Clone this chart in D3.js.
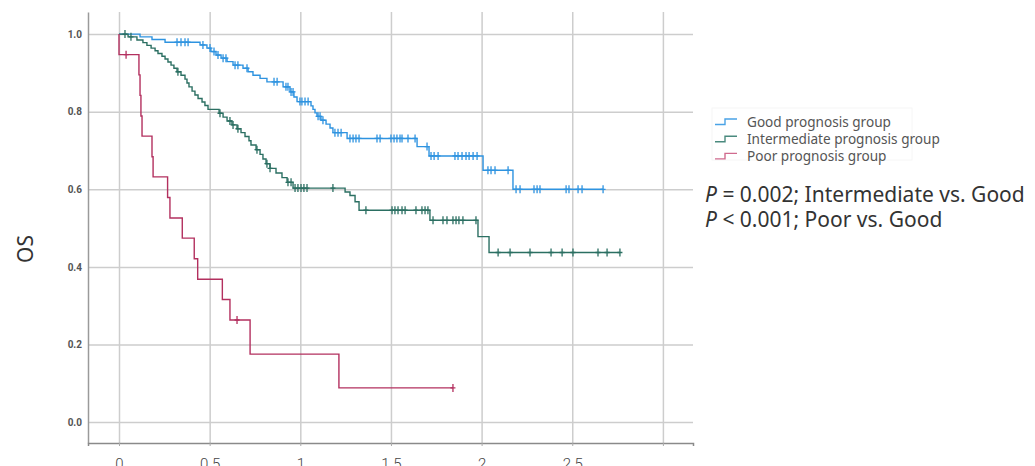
<!DOCTYPE html>
<html>
<head>
<meta charset="utf-8">
<script src="https://cdn.jsdelivr.net/npm/d3@7"></script>
<style>
  body { margin: 0; background: #fff; }
  svg { display: block; }
</style>
</head>
<body>
<div id="chart"></div>
<script>
// tick values
var xTicks = [0, 0.5, 1, 1.5, 2, 2.5, 3];
var xTickLabels = ["0", "0.5", "1", "1.5", "2", "2.5", ""];
var yTicks = [0, 0.2, 0.4, 0.6, 0.8, 1.0];

var groupNames = ["Good prognosis group", "Intermediate prognosis group", "Poor prognosis group"];

// Good prognosis: event times and survival after each event
var goodTimes = [0.116, 0.182, 0.254, 0.447, 0.485, 0.507, 0.535, 0.563, 0.596, 0.629, 0.684, 0.712, 0.739, 0.778, 0.816,
  0.905, 0.943, 0.965, 0.982, 1.059, 1.070, 1.081, 1.092, 1.114, 1.142, 1.164, 1.180, 1.258, 1.644, 1.710, 2.008, 2.173];
var goodSurv = [0.993, 0.986, 0.979, 0.972, 0.964, 0.955, 0.946, 0.938, 0.929, 0.920, 0.912, 0.903, 0.894, 0.886, 0.877,
  0.864, 0.851, 0.838, 0.826, 0.815, 0.806, 0.797, 0.788, 0.778, 0.768, 0.758, 0.746, 0.731, 0.710, 0.686, 0.649, 0.600];
var goodCensor = [0.320, 0.342, 0.364, 0.381, 0.463, 0.502, 0.524, 0.546, 0.574, 0.590, 0.640, 0.656, 0.706, 0.855, 0.872,
  0.921, 0.932, 0.949, 0.960, 0.998, 1.009, 1.026, 1.043, 1.098, 1.109, 1.125, 1.191, 1.208, 1.225, 1.274, 1.291, 1.307,
  1.324, 1.423, 1.440, 1.500, 1.517, 1.533, 1.550, 1.561, 1.594, 1.633, 1.699, 1.721, 1.738, 1.760, 1.853, 1.870, 1.892,
  1.914, 1.931, 1.953, 1.975, 2.035, 2.052, 2.074, 2.146, 2.190, 2.212, 2.289, 2.306, 2.322, 2.466, 2.482, 2.532, 2.554, 2.670];

// Intermediate prognosis
var midTimes = [0.050, 0.099, 0.132, 0.154, 0.177, 0.199, 0.215, 0.237, 0.254, 0.270, 0.287, 0.303, 0.320, 0.342, 0.364,
  0.375, 0.386, 0.403, 0.419, 0.436, 0.458, 0.474, 0.491, 0.552, 0.574, 0.596, 0.623, 0.651, 0.673, 0.695, 0.717, 0.728,
  0.756, 0.778, 0.794, 0.811, 0.833, 0.866, 0.899, 0.927, 0.960, 1.247, 1.274, 1.302, 1.324, 1.715, 1.980, 2.041];
var midSurv = [0.993, 0.985, 0.978, 0.971, 0.964, 0.957, 0.950, 0.943, 0.936, 0.928, 0.920, 0.912, 0.903, 0.894, 0.884,
  0.874, 0.864, 0.853, 0.843, 0.834, 0.825, 0.816, 0.806, 0.796, 0.786, 0.776, 0.766, 0.756, 0.746, 0.736, 0.725, 0.714,
  0.702, 0.690, 0.678, 0.666, 0.654, 0.642, 0.630, 0.618, 0.603, 0.593, 0.584, 0.568, 0.546, 0.520, 0.478, 0.437];
var midCensor = [0.033, 0.066, 0.325, 0.557, 0.612, 0.629, 0.656, 0.761, 0.816, 0.833, 0.932, 0.949, 0.971, 0.987, 1.004,
  1.020, 1.037, 1.180, 1.362, 1.506, 1.522, 1.539, 1.561, 1.578, 1.638, 1.671, 1.688, 1.704, 1.732, 1.787, 1.809, 1.842,
  1.859, 1.875, 1.897, 1.969, 2.091, 2.157, 2.267, 2.383, 2.444, 2.504, 2.642, 2.692, 2.763];

// Poor prognosis
var poorTimes = [0, 0.110, 0.116, 0.121, 0.127, 0.182, 0.188, 0.268, 0.281, 0.349, 0.415, 0.434, 0.570, 0.612, 0.723, 1.213];
var poorSurv = [0.947, 0.895, 0.842, 0.789, 0.737, 0.684, 0.632, 0.579, 0.526, 0.474, 0.421, 0.368, 0.316, 0.263, 0.175, 0.088];
var poorCensor = [0.039, 0.651, 1.842];

var colors = ["#2e93e0", "#2b6f62", "#b3305f"];
var legendColors = ["#4aa3e6", "#4a8a7e", "#d06b8e"];

var svgWidth = 1035;
var svgHeight = 466;
var margin = { top: 12, right: 342, bottom: 23, left: 88 };
var width = svgWidth - margin.left - margin.right;
var height = svgHeight - margin.top - margin.bottom;

var svg = d3.select("#chart")
  .append("svg")
  .attr("width", svgWidth)
  .attr("height", svgHeight);

var chartGroup = svg.append("g")
  .attr("transform", `translate(${margin.left}, ${margin.top})`);

var xScale = d3.scaleLinear().domain([-0.171, 3.166]).range([0, width]);
var yScale = d3.scaleLinear().domain([-0.054, 1.057]).range([height, 0]);

// grid lines via axes
var xGrid = chartGroup.append("g")
  .attr("transform", `translate(0, ${height})`)
  .call(d3.axisBottom(xScale).tickValues(xTicks).tickSize(-height).tickFormat(""));
xGrid.select(".domain").remove();
xGrid.selectAll("line").attr("stroke", "#cdcdcd").attr("stroke-width", 1.5);

var yGrid = chartGroup.append("g")
  .call(d3.axisLeft(yScale).tickValues(yTicks).tickSize(-width).tickFormat(""));
yGrid.select(".domain").remove();
yGrid.selectAll("line").attr("stroke", "#cdcdcd").attr("stroke-width", 1.5);

// axis labels
var yAxis = chartGroup.append("g")
  .call(d3.axisLeft(yScale).tickValues(yTicks).tickSize(0).tickPadding(6).tickFormat(d3.format(".1f")));
yAxis.select(".domain").attr("stroke", "#9a9a9a").attr("stroke-width", 1.5);
yAxis.selectAll("text")
  .attr("font-family", "Roboto, 'Liberation Sans', sans-serif")
  .attr("font-weight", "bold")
  .attr("font-size", 10)
  .attr("fill", "#555");

var xAxis = chartGroup.append("g")
  .attr("transform", `translate(0, ${height})`)
  .call(d3.axisBottom(xScale).tickValues(xTicks).tickSize(3).tickPadding(12)
    .tickFormat(function(d, i) { return xTickLabels[i]; }));
xAxis.select(".domain").attr("stroke", "#8a8a8a").attr("stroke-width", 1.5);
xAxis.selectAll("line").attr("stroke", "#aaa");
xAxis.selectAll("text")
  .attr("font-family", "Roboto, sans-serif")
  .attr("font-weight", 300)
  .attr("font-size", 15)
  .attr("fill", "#444");

// OS label
svg.append("text")
  .attr("transform", "translate(33, 249) rotate(-90)")
  .attr("text-anchor", "middle")
  .attr("font-family", "'Noto Sans', sans-serif")
  .attr("font-size", 21)
  .attr("fill", "#333")
  .text("OS");

function buildCurve(times, surv, censor) {
  var pts = [{ t: 0, s: 1 }];
  times.forEach(function(t, i) { pts.push({ t: t, s: surv[i] }); });
  var end = d3.max([d3.max(times), d3.max(censor)]);
  pts.push({ t: end, s: surv[surv.length - 1] });
  return pts;
}

function survAt(times, surv, t) {
  var s = 1;
  times.forEach(function(tt, i) { if (tt <= t) s = surv[i]; });
  return s;
}

var groups = [
  { times: goodTimes, surv: goodSurv, censor: goodCensor },
  { times: midTimes, surv: midSurv, censor: midCensor },
  { times: poorTimes, surv: poorSurv, censor: poorCensor }
];

var line = d3.line()
  .x(d => xScale(d.t))
  .y(d => yScale(d.s))
  .curve(d3.curveStepAfter);

groups.forEach(function(g, gi) {
  chartGroup.append("path")
    .datum(buildCurve(g.times, g.surv, g.censor))
    .attr("d", line)
    .attr("fill", "none")
    .attr("stroke", colors[gi])
    .attr("stroke-width", 1.4);

  chartGroup.selectAll(".censor" + gi)
    .data(g.censor)
    .enter()
    .append("path")
    .attr("class", "censor" + gi)
    .attr("d", function(t) {
      var cx = xScale(t), cy = yScale(survAt(g.times, g.surv, t));
      return `M${cx - 2.5},${cy}H${cx + 2.5}M${cx},${cy - 4}V${cy + 4}`;
    })
    .attr("stroke", colors[gi])
    .attr("stroke-width", 1.3)
    .attr("fill", "none");
});

// legend
var legend = svg.append("g").attr("transform", "translate(715, 122)");
legend.append("rect")
  .attr("x", -3).attr("y", -14).attr("width", 200).attr("height", 52)
  .attr("fill", "none").attr("stroke", "#f6f6f6");
groupNames.forEach(function(name, i) {
  var ly = i * 17.2;
  legend.append("path")
    .attr("d", `M0,${ly + 2.5}H10V${ly - 3}H22`)
    .attr("fill", "none")
    .attr("stroke", legendColors[i])
    .attr("stroke-width", 1.4);
  legend.append("text")
    .attr("x", 32)
    .attr("y", ly + 4.5)
    .attr("font-family", "'Noto Sans', sans-serif")
    .attr("font-size", 13.6)
    .attr("fill", "#555")
    .text(name);
});

// p-values, one text block with two lines
var pLines = ["= 0.002; Intermediate vs. Good", "< 0.001; Poor vs. Good"];
var pText = svg.append("text")
  .attr("x", 705)
  .attr("y", 202)
  .attr("font-family", "'Noto Sans', sans-serif")
  .attr("font-size", 21)
  .attr("fill", "#333");
pLines.forEach(function(txt, i) {
  pText.append("tspan")
    .attr("x", 705)
    .attr("dy", i === 0 ? 0 : 24.5)
    .attr("font-style", "italic")
    .text("P");
  pText.append("tspan").text(" " + txt);
});
</script>
</body>
</html>
